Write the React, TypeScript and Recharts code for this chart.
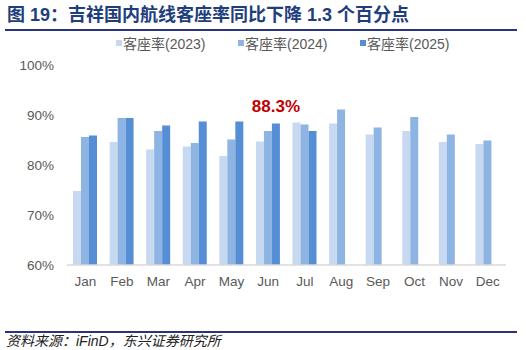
import React from "react";
import { BarChart, Bar, XAxis, YAxis, LabelList } from "recharts";

const months = ["Jan", "Feb", "Mar", "Apr", "May", "Jun", "Jul", "Aug", "Sep", "Oct", "Nov", "Dec"];
const load2023 = [74.8, 84.6, 83.1, 83.7, 81.8, 84.7, 88.5, 88.3, 86.1, 86.8, 84.6, 84.2];
const load2024 = [85.6, 89.4, 86.8, 84.4, 85.1, 86.8, 88.1, 91.1, 87.5, 89.6, 86.1, 84.9];
const load2025: (number | null)[] = [85.9, 89.4, 87.9, 88.7, 88.7, 88.3, 86.8, null, null, null, null, null];
const yTicks = [60, 70, 80, 90, 100];
const seriesNames = ["客座率(2023)", "客座率(2024)", "客座率(2025)"];
const seriesColors = ["#C6D9F1", "#8EB4E3", "#558ED5"];
const highlightIndex = 5;

const data = months.map((m, i) => ({
  month: m,
  s2023: load2023[i],
  s2024: load2024[i],
  s2025: load2025[i],
}));

const FONT = "'Liberation Sans', Arial, 'Noto Sans CJK SC', sans-serif";

const HighlightLabel = (props: any) => {
  const { x, y, width, value, index } = props;
  if (index !== highlightIndex || value == null) return null;
  return (
    <text
      x={x + width / 2}
      y={y - 12}
      textAnchor="middle"
      fill="#C00000"
      fontSize={17}
      fontWeight="bold"
      fontFamily={FONT}
    >
      {`${value}%`}
    </text>
  );
};

export default function App() {
  return (
    <div
      style={{
        position: "absolute",
        left: 0,
        top: 0,
        width: 526,
        height: 350,
        background: "#fff",
        fontFamily: FONT,
        overflow: "hidden",
      }}
    >
      <div
        style={{
          position: "absolute",
          left: 7,
          top: 4,
          fontSize: 18,
          fontWeight: "bold",
          color: "#1F3E7C",
          fontFamily: "'Liberation Sans', 'Noto Sans CJK SC', sans-serif",
          whiteSpace: "nowrap",
          lineHeight: "22px",
        }}
      >
        图 19：吉祥国内航线客座率同比下降 1.3 个百分点
      </div>
      <div style={{ position: "absolute", left: 5, top: 29, width: 512, height: 2, background: "#29347E" }} />
      <div style={{ position: "absolute", left: 0, top: 0 }}>
        <BarChart
          width={526}
          height={350}
          data={data}
          margin={{ top: 65, right: 20, bottom: 55, left: 0 }}
          barGap={0}
        >
          <YAxis
            width={67}
            domain={[60, 100]}
            ticks={yTicks}
            tickFormatter={(v: number) => `${v}%`}
            axisLine={false}
            tickLine={false}
            tickSize={0}
            tickMargin={13}
            tick={{ fill: "#595959", fontSize: 13.5, fontFamily: FONT }}
            allowDataOverflow
          />
          <XAxis
            dataKey="month"
            axisLine={{ stroke: "#D9D9D9", strokeWidth: 1.5 }}
            tickLine={false}
            tickSize={0}
            tickMargin={11}
            tick={{ fill: "#595959", fontSize: 13.5, fontFamily: FONT }}
            interval={0}
          />
          <Bar dataKey="s2023" name={seriesNames[0]} fill={seriesColors[0]} barSize={8} isAnimationActive={false} />
          <Bar dataKey="s2024" name={seriesNames[1]} fill={seriesColors[1]} barSize={8} isAnimationActive={false} />
          <Bar dataKey="s2025" name={seriesNames[2]} fill={seriesColors[2]} barSize={8} isAnimationActive={false}>
            <LabelList dataKey="s2025" content={HighlightLabel} />
          </Bar>
        </BarChart>
      </div>
      {seriesNames.map((name, i) => (
        <div
          key={name}
          style={{
            position: "absolute",
            left: 116 + i * 122,
            top: 34,
            height: 18,
            display: "flex",
            alignItems: "center",
            fontSize: 14,
            color: "#595959",
            whiteSpace: "nowrap",
            fontFamily: FONT,
          }}
        >
          <span style={{ display: "inline-block", width: 6, height: 6, background: seriesColors[i], marginRight: 1 }} />
          <span>{name}</span>
        </div>
      ))}
      <div style={{ position: "absolute", left: 5, top: 331, width: 512, height: 1.5, background: "#29347E" }} />
      <div
        style={{
          position: "absolute",
          left: 6,
          top: 333,
          fontSize: 14,
          fontStyle: "italic",
          color: "#222",
          whiteSpace: "nowrap",
          fontFamily: FONT,
          lineHeight: "17px",
        }}
      >
        资料来源：iFinD，东兴证券研究所
      </div>
    </div>
  );
}
